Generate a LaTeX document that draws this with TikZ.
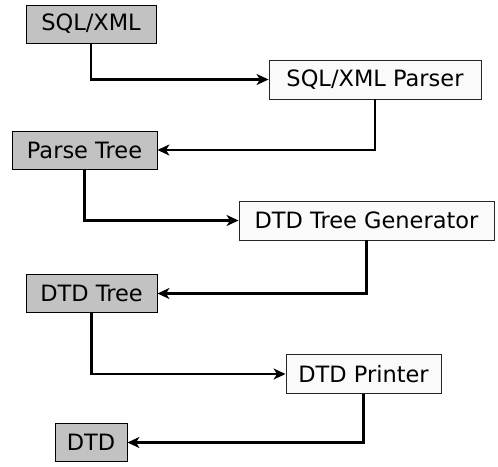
\documentclass[tikz,border=0pt]{standalone}
\usepackage{fontspec}
\setmainfont{DejaVu Sans}
\usetikzlibrary{arrows.meta}
\begin{document}
\begin{tikzpicture}[x=1pt,y=-1pt,
  every node/.style={font=\fontsize{22.5}{26}\selectfont, inner sep=0pt, anchor=center},
  databox/.style={draw=black, line width=0.9pt, fill=black!24, minimum height=38pt},
  procbox/.style={draw=black!85, line width=0.9pt, fill=black!2, minimum height=39pt},
  flow/.style={line width=2.6pt, -{Stealth[length=12pt,width=11pt,inset=3.5pt]}}]
\useasboundingbox (0,0) rectangle (498,466);
\node[databox, minimum width=130pt] (sql) at (91,24) {SQL/XML};
\node[procbox, minimum width=212pt] (parser) at (375,79.5) {SQL/XML Parser};
\node[databox, minimum width=145pt] (ptree) at (84.5,150) {Parse Tree};
\node[procbox, minimum width=255pt] (gen) at (366.5,220.5) {DTD Tree Generator};
\node[databox, minimum width=131pt] (dtree) at (91.5,293.5) {DTD Tree};
\node[procbox, minimum width=155pt] (printer) at (363.5,374) {DTD Printer};
\node[databox, minimum width=72pt] (dtd) at (91,442.5) {DTD};
\draw[flow] (sql.south) |- (parser.west);
\draw[flow] (parser.south) |- (ptree.east);
\draw[flow] (ptree.south) |- (gen.west);
\draw[flow] (gen.south) |- (dtree.east);
\draw[flow] (dtree.south) |- (printer.west);
\draw[flow] (printer.south) |- (dtd.east);
\end{tikzpicture}
\end{document}
